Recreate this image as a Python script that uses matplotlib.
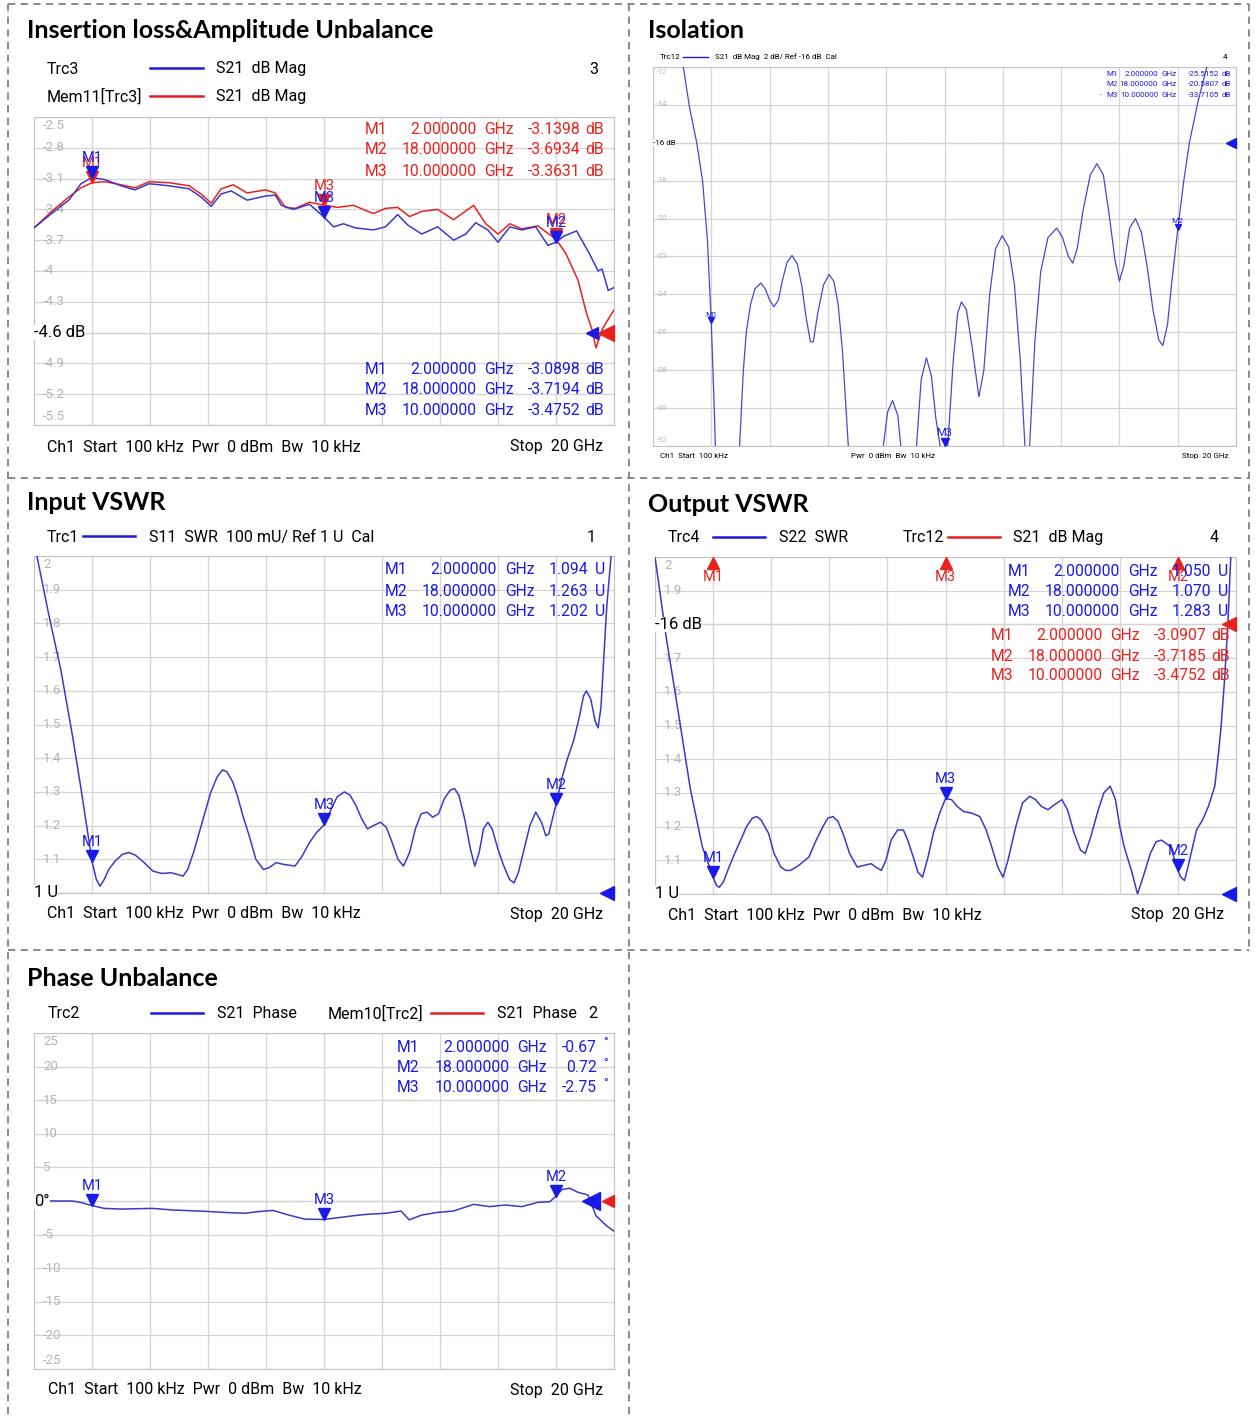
import numpy as np
import matplotlib
matplotlib.use('Agg')
import matplotlib.pyplot as plt
from matplotlib.lines import Line2D
from matplotlib import transforms

# ---- data (freq in GHz) ----

# Insertion loss, Trc3 (blue) and Mem11 (red), dB
il_blue_f = [0.0, 0.65, 1.2, 1.62, 2.0, 2.45, 3.0, 3.48, 3.97, 4.66, 5.35, 5.76, 6.11, 6.45,
             6.8, 7.35, 7.98, 8.32, 8.53, 8.94, 9.5, 10.0, 10.33, 10.67, 11.08, 11.7, 12.12,
             12.54, 12.88, 13.37, 13.92, 14.47, 14.89, 15.23, 15.65, 16.0, 16.41, 16.82,
             17.3, 17.72, 18.0, 18.27, 18.71, 19.17, 19.45, 19.59, 19.8, 20.0]
il_blue = [-3.58, -3.43, -3.31, -3.15, -3.09, -3.11, -3.17, -3.21, -3.15, -3.17, -3.20,
           -3.28, -3.37, -3.25, -3.22, -3.31, -3.27, -3.26, -3.36, -3.40, -3.35, -3.475,
           -3.57, -3.54, -3.58, -3.60, -3.57, -3.45, -3.55, -3.64, -3.57, -3.70, -3.64,
           -3.53, -3.60, -3.72, -3.57, -3.60, -3.57, -3.75, -3.72, -3.66, -3.61, -3.84,
           -4.00, -3.98, -4.19, -4.16]
il_red_f = [0.0, 0.65, 1.2, 1.62, 2.0, 2.45, 3.0, 3.48, 3.97, 4.66, 5.35, 5.76, 6.11, 6.45,
            6.87, 7.35, 7.98, 8.32, 8.67, 9.01, 9.5, 10.0, 10.46, 11.02, 11.43, 11.71,
            12.12, 12.54, 12.95, 13.37, 13.92, 14.47, 15.16, 15.58, 16.0, 16.41, 16.82,
            17.37, 18.0, 18.34, 18.76, 19.03, 19.24, 19.38, 19.59, 19.8, 20.0]
il_red = [-3.58, -3.41, -3.28, -3.19, -3.14, -3.13, -3.16, -3.19, -3.13, -3.14, -3.17,
          -3.25, -3.34, -3.20, -3.16, -3.24, -3.21, -3.24, -3.38, -3.39, -3.33, -3.36,
          -3.38, -3.36, -3.41, -3.44, -3.39, -3.38, -3.47, -3.42, -3.40, -3.50, -3.36,
          -3.54, -3.64, -3.54, -3.59, -3.56, -3.69, -3.83, -4.09, -4.39, -4.57, -4.75,
          -4.57, -4.47, -4.38]

# Isolation, Trc12, dB
iso_f = [0.0, 0.5, 1.0, 1.25, 1.5, 1.7, 1.87, 2.0, 2.1, 2.2, 2.55, 2.9, 2.97, 3.1, 3.2,
         3.35, 3.5, 3.7, 3.85, 4.0, 4.15, 4.3, 4.45, 4.6, 4.77, 4.95, 5.1, 5.25, 5.4, 5.5,
         5.65, 5.85, 6.04, 6.2, 6.35, 6.5, 6.7, 6.9, 7.3, 7.7, 7.9, 8.05, 8.22, 8.4, 8.5,
         8.75, 9.04, 9.2, 9.38, 9.55, 9.7, 9.85, 10.0, 10.11, 10.3, 10.45, 10.58, 10.75,
         10.95, 11.18, 11.35, 11.55, 11.75, 11.98, 12.2, 12.4, 12.6, 12.76, 12.84, 12.92,
         13.1, 13.3, 13.55, 13.85, 14.05, 14.25, 14.4, 14.55, 14.75, 15.0, 15.23, 15.45,
         15.65, 15.85, 16.0, 16.15, 16.35, 16.55, 16.75, 16.95, 17.15, 17.35, 17.49, 17.65,
         17.8, 18.0, 18.2, 18.4, 18.7, 19.0, 19.5, 20.0]
iso_db = [-4.0, -7.5, -11.6, -14.1, -16.0, -18.0, -21.2, -25.5, -30.0, -35.0, -40.0, -35.0,
          -32.0, -28.0, -26.0, -24.5, -23.7, -23.4, -23.7, -24.3, -24.65, -24.3, -23.2,
          -22.3, -21.95, -22.4, -23.5, -25.2, -26.5, -26.5, -25.0, -23.5, -22.95, -23.3,
          -24.5, -27.0, -32.0, -36.0, -40.0, -36.0, -32.0, -30.2, -29.6, -30.4, -32.0,
          -35.0, -32.0, -28.5, -27.35, -28.3, -30.5, -32.0, -33.7, -32.0, -27.5, -25.0,
          -24.4, -24.8, -26.8, -29.4, -28.0, -24.0, -21.6, -20.9, -21.5, -23.5, -27.5,
          -32.0, -33.5, -32.0, -26.5, -22.8, -21.0, -20.5, -21.0, -22.0, -22.35, -21.6,
          -19.6, -17.7, -17.1, -17.7, -19.8, -22.2, -23.3, -22.5, -20.5, -20.0, -20.7,
          -22.5, -24.8, -26.4, -26.7, -25.6, -23.3, -20.6, -18.1, -16.0, -13.8, -12.0,
          -9.0, -6.0]

# Input VSWR, S11
vin_f = [0.0, 0.1, 0.5, 0.93, 1.34, 1.62, 1.85, 2.0, 2.15, 2.28, 2.42, 2.58, 2.8, 3.05,
         3.28, 3.5, 3.8, 4.1, 4.4, 4.73, 4.95, 5.14, 5.3, 5.5, 5.7, 5.9, 6.1, 6.32, 6.5,
         6.65, 6.85, 7.01, 7.2, 7.42, 7.65, 7.91, 8.1, 8.35, 8.6, 9.0, 9.25, 9.5, 9.75,
         10.0, 10.2, 10.45, 10.7, 10.9, 11.1, 11.3, 11.5, 11.7, 11.95, 12.15, 12.35, 12.55,
         12.74, 12.95, 13.15, 13.35, 13.55, 13.75, 13.95, 14.15, 14.35, 14.5, 14.65, 14.85,
         15.05, 15.2, 15.35, 15.5, 15.65, 15.8, 16.0, 16.2, 16.4, 16.55, 16.7, 16.9, 17.1,
         17.3, 17.5, 17.65, 17.75, 17.85, 18.0, 18.2, 18.4, 18.6, 18.8, 18.95, 19.05, 19.2,
         19.35, 19.45, 19.55, 19.65, 19.75, 19.85, 19.95]
vin = [2.05, 2.0, 1.83, 1.66, 1.46, 1.31, 1.18, 1.094, 1.04, 1.02, 1.04, 1.07, 1.095, 1.115,
       1.12, 1.112, 1.09, 1.065, 1.058, 1.06, 1.055, 1.05, 1.07, 1.12, 1.18, 1.24, 1.30,
       1.345, 1.365, 1.36, 1.33, 1.29, 1.23, 1.17, 1.10, 1.07, 1.075, 1.09, 1.085, 1.08,
       1.11, 1.15, 1.18, 1.202, 1.24, 1.285, 1.30, 1.29, 1.26, 1.22, 1.19, 1.20, 1.21,
       1.195, 1.15, 1.10, 1.08, 1.12, 1.19, 1.235, 1.24, 1.225, 1.235, 1.28, 1.305, 1.31,
       1.29, 1.22, 1.13, 1.08, 1.12, 1.19, 1.21, 1.19, 1.13, 1.08, 1.04, 1.03, 1.06, 1.13,
       1.20, 1.24, 1.21, 1.17, 1.175, 1.21, 1.263, 1.34, 1.40, 1.45, 1.52, 1.585, 1.60,
       1.575, 1.51, 1.49, 1.55, 1.70, 1.85, 1.95, 2.05]

# Output VSWR, S22
vout_f = [0.0, 0.39, 0.8, 1.22, 1.63, 2.0, 2.12, 2.21, 2.35, 2.55, 2.74, 2.95, 3.15, 3.35,
          3.5, 3.65, 3.91, 4.1, 4.33, 4.5, 4.67, 4.95, 5.3, 5.55, 5.78, 5.95, 6.13, 6.3,
          6.47, 6.7, 6.96, 7.2, 7.44, 7.6, 7.79, 7.95, 8.13, 8.35, 8.55, 8.7, 8.89, 9.05,
          9.21, 9.4, 9.58, 9.8, 10.0, 10.21, 10.4, 10.62, 10.9, 11.18, 11.4, 11.59, 11.8,
          11.98, 12.15, 12.42, 12.65, 12.9, 13.1, 13.3, 13.53, 13.75, 14.01, 14.2, 14.43,
          14.65, 14.81, 15.0, 15.26, 15.45, 15.67, 15.85, 16.0, 16.15, 16.4, 16.61, 16.8,
          17.05, 17.25, 17.43, 17.6, 17.75, 18.0, 18.1, 18.23, 18.4, 18.64, 18.85, 19.05,
          19.27, 19.4, 19.48, 19.61, 19.72, 19.82, 20.0]
vout = [2.0, 1.76, 1.54, 1.31, 1.14, 1.05, 1.025, 1.02, 1.035, 1.08, 1.12, 1.16, 1.20,
        1.225, 1.23, 1.22, 1.18, 1.12, 1.08, 1.07, 1.07, 1.085, 1.11, 1.16, 1.20, 1.225,
        1.23, 1.215, 1.18, 1.12, 1.08, 1.085, 1.09, 1.08, 1.07, 1.10, 1.16, 1.19, 1.19,
        1.16, 1.11, 1.065, 1.05, 1.11, 1.18, 1.24, 1.283, 1.28, 1.26, 1.245, 1.24, 1.23,
        1.19, 1.14, 1.08, 1.05, 1.10, 1.20, 1.27, 1.29, 1.28, 1.26, 1.25, 1.265, 1.28,
        1.25, 1.18, 1.13, 1.12, 1.17, 1.25, 1.30, 1.32, 1.28, 1.20, 1.14, 1.07, 1.00, 1.05,
        1.12, 1.155, 1.16, 1.15, 1.14, 1.07, 1.05, 1.04, 1.10, 1.19, 1.22, 1.26, 1.32,
        1.42, 1.49, 1.64, 1.80, 2.0, 2.2]

# Phase unbalance, S21 phase, deg
ph_f = [0.0, 1.31, 1.59, 2.0, 2.42, 2.98, 4.08, 4.78, 5.74, 6.57, 7.27, 7.68, 8.24, 8.79,
        9.34, 10.0, 10.45, 11.0, 11.42, 12.11, 12.66, 12.94, 13.36, 13.91, 14.46, 15.16,
        15.71, 16.26, 16.82, 17.37, 17.79, 18.0, 18.2, 18.48, 18.75, 19.1, 19.38, 19.72,
        20.0]
ph = [0.0, 0.0, -0.2, -0.67, -1.1, -1.2, -1.1, -1.34, -1.5, -1.7, -1.83, -1.6, -1.4, -2.1,
      -2.7, -2.75, -2.5, -2.2, -2.0, -1.83, -1.5, -2.8, -2.1, -1.7, -1.5, -0.5, -0.84,
      -0.6, -0.84, -0.2, -0.1, 0.72, 1.7, 1.9, 1.3, 0.9, -2.2, -3.6, -4.5]

# markers: name, frequency, value
mk_names = ['M1', 'M2', 'M3']
mk_freq = [2.0, 18.0, 10.0]
mk_freq_txt = ['2.000000', '18.000000', '10.000000']
il_red_mk = [-3.1398, -3.6934, -3.3631]
il_blue_mk = [-3.0898, -3.7194, -3.4752]
iso_mk = [-25.5152, -20.5807, -33.7105]
vin_mk = [1.094, 1.263, 1.202]
vout_mk = [1.050, 1.070, 1.283]
vout_red_mk = [-3.0907, -3.7185, -3.4752]
ph_mk = [-0.67, 0.72, -2.75]

# y grid labels (top to bottom), None where the reference label sits
il_labels = ['-2.5', '-2.8', '-3.1', '-3.4', '-3.7', '-4', '-4.3', None, '-4.9', '-5.2', '-5.5']
iso_labels = ['-12', '-14', None, '-18', '-20', '-22', '-24', '-26', '-28', '-30', '-32']
vin_labels = ['2', '1.9', '1.8', '1.7', '1.6', '1.5', '1.4', '1.3', '1.2', '1.1', None]
vout_labels = ['2', '1.9', None, '1.7', '1.6', '1.5', '1.4', '1.3', '1.2', '1.1', None]
ph_labels = ['25', '20', '15', '10', '5', None, '-5', '-10', '-15', '-20', '-25']

W, H = 1259, 1419
BLUE = '#3a3ac8'
BLUE_MK = '#1a1ae6'
RED = '#e8231e'
GRAY_LAB = '#b4b4b4'
TXT = 11.5   # header / footer text size
MKT = 11.3   # marker table text size

plt.rcParams['font.family'] = 'Roboto'
fig = plt.figure(figsize=(W / 100, H / 100), dpi=100)


def fx(x):
    return x / W


def fy(y):
    return 1 - y / H


def ftext(x, y, s, **kw):
    kw.setdefault('va', 'center')
    kw.setdefault('fontsize', TXT)
    fig.text(fx(x), fy(y), s, **kw)


def fline(x0, x1, y, color, lw=1.8):
    fig.add_artist(Line2D([fx(x0), fx(x1)], [fy(y), fy(y)], color=color, lw=lw))


def dashed(x0, y0, x1, y1):
    fig.add_artist(Line2D([fx(x0), fx(x1)], [fy(y0), fy(y1)], color='#808080',
                          lw=1.3, ls=(0, (4, 3))))


def scope(box, ylo, yhi, labels, lab_fs=9.5, lab_dx=9):
    x0, y0, x1, y1 = box
    ax = fig.add_axes([fx(x0), fy(y1), (x1 - x0) / W, (y1 - y0) / H])
    ax.set_xlim(0, 20)
    ax.set_ylim(ylo, yhi)
    levels = np.linspace(yhi, ylo, 11)
    ax.set_xticks(range(0, 21, 2))
    ax.set_yticks(levels)
    ax.tick_params(length=0, labelbottom=False, labelleft=False)
    ax.grid(True, color='#d4d4d4', lw=0.9)
    for sp in ax.spines.values():
        sp.set_color('#c4c4c4')
    base = transforms.blended_transform_factory(ax.transAxes, ax.transData)
    for i, lab in enumerate(labels):
        if lab is None:
            continue
        if i == 0:
            va, dy = 'top', -2
        elif i == 10:
            va, dy = 'bottom', 2
        else:
            va, dy = 'center', 0
        t = base + transforms.ScaledTranslation(lab_dx / 100, dy / 100, fig.dpi_scale_trans)
        ax.text(0, levels[i], lab, transform=t, color=GRAY_LAB, fontsize=lab_fs,
                va=va, ha='left')
    return ax


def ref_line(ax, yv, text, fs=12):
    ax.axhline(yv, color='#202020', lw=0.8, ls=(0, (1, 1.3)), zorder=1)
    trans = transforms.blended_transform_factory(ax.transAxes, ax.transData)
    ax.text(0.0, yv, text, transform=trans, fontsize=fs, va='center', ha='left',
            color='black', zorder=5, bbox=dict(fc='white', ec='none', pad=0.3))


def ref_arrow(ax, yv, color, ms, dx_px=0):
    trans = transforms.blended_transform_factory(ax.transAxes, ax.transData)
    trans = trans + transforms.ScaledTranslation((-ms * 100 / 72 / 2 - dx_px) / 100, 0,
                                                 fig.dpi_scale_trans)
    ax.plot([1.0], [yv], marker='<', ms=ms, color=color, transform=trans,
            clip_on=False, zorder=6, mec=color)


def marker(ax, f, v, name, color, ms=8, fs=10, up=False, lab_gap=1):
    if up:
        t = transforms.offset_copy(ax.transData, fig=fig, y=-ms / 2, units='points')
        ax.plot([f], [v], marker='^', ms=ms, color=color, transform=t, clip_on=False, zorder=6)
        ax.annotate(name, (f, v), xytext=(0, -ms - lab_gap), textcoords='offset points',
                    ha='center', va='top', color=color, fontsize=fs, zorder=6)
    else:
        t = transforms.offset_copy(ax.transData, fig=fig, y=ms / 2, units='points')
        ax.plot([f], [v], marker='v', ms=ms, color=color, transform=t, clip_on=False, zorder=6)
        ax.annotate(name, (f, v), xytext=(0, ms + lab_gap), textcoords='offset points',
                    ha='center', va='bottom', color=color, fontsize=fs, zorder=6)


def table(rows_y, R, cols, vals, unit, color, fs=MKT, dot_row=None):
    for k, y in enumerate(rows_y):
        ftext(R + cols[0], y, mk_names[k], ha='left', color=color, fontsize=fs)
        ftext(R + cols[1], y, mk_freq_txt[k], ha='right', color=color, fontsize=fs)
        ftext(R + cols[2], y, 'GHz', ha='left', color=color, fontsize=fs)
        ftext(R + cols[3], y, vals[k], ha='right', color=color, fontsize=fs)
        if unit == '°':
            ftext(R + cols[4], y - 4, unit, ha='left', color=color, fontsize=fs * 0.8)
        else:
            ftext(R + cols[4], y, unit, ha='left', color=color, fontsize=fs)
        if dot_row == k:
            ftext(R + cols[0] - 6, y, '•', ha='left', color=color, fontsize=fs * 0.7)


TITLE_KW = dict(fontsize=18, fontweight='bold', family='Lato', ha='left')
SMALL = 5.8
DB_COLS = (-239, -127, -120, -24, -19)
U_COLS = (-221, -109, -101, -18, -11)

# ---- dashed cell borders ----
dashed(8, 4, 1249, 4)
dashed(8, 478, 1249, 478)
dashed(8, 950, 1249, 950)
dashed(8, 4, 8, 1419)
dashed(629, 4, 629, 1419)
dashed(1249, 4, 1249, 950)

# ---- Insertion loss ----
ftext(27, 31, 'Insertion loss&Amplitude Unbalance', **TITLE_KW)
ftext(47, 69, 'Trc3')
fline(150, 203, 68, '#1a1ae0')
ftext(216, 69, 'S21  dB Mag')
ftext(598, 69, '3', ha='right')
ftext(47, 97, 'Mem11[Trc3]')
fline(150, 203, 96, '#e02020')
ftext(216, 97, 'S21  dB Mag')
ax = scope((34, 117, 614, 425), -5.5, -2.5, il_labels)
ax.plot(il_red_f, il_red, color=RED, lw=1.1, zorder=3)
ax.plot(il_blue_f, il_blue, color=BLUE, lw=1.1, zorder=3)
ref_line(ax, -4.6, '-4.6 dB')
ref_arrow(ax, -4.6, RED, 11)
ref_arrow(ax, -4.6, BLUE_MK, 9, dx_px=16)
for k in range(3):
    marker(ax, mk_freq[k], il_red_mk[k], mk_names[k], RED, ms=8, fs=10.5)
    marker(ax, mk_freq[k], il_blue_mk[k], mk_names[k], BLUE_MK, ms=8, fs=10.5)
table([130, 150, 171], 604, DB_COLS, ['-3.1398', '-3.6934', '-3.3631'], 'dB', RED)
table([370, 390, 411], 604, DB_COLS, ['-3.0898', '-3.7194', '-3.4752'], 'dB', BLUE_MK)
ftext(47, 447, 'Ch1  Start  100 kHz  Pwr  0 dBm  Bw  10 kHz')
ftext(603, 447, 'Stop  20 GHz', ha='right')

# ---- Isolation ----
ftext(648, 31, 'Isolation', **TITLE_KW)
ftext(660, 57, 'Trc12', fontsize=SMALL)
fline(683, 708, 57, '#1a1ae0', lw=1.0)
ftext(715, 57, 'S21  dB Mag  2 dB/ Ref -16 dB  Cal', fontsize=SMALL)
ftext(1227, 57, '4', ha='right', fontsize=SMALL)
ax = scope((653, 67, 1236, 446), -32, -12, iso_labels, lab_fs=5.3, lab_dx=4)
ax.plot(iso_f, iso_db, color='#4848d0', lw=0.9, zorder=3)
ref_line(ax, -16, '-16 dB', fs=5.8)
ref_arrow(ax, -16, BLUE_MK, 7)
for k in range(3):
    big = k == 2
    marker(ax, mk_freq[k], max(iso_mk[k], -32), mk_names[k], BLUE_MK,
           ms=6 if big else 4, fs=8 if big else 6, lab_gap=0)
table([74, 84, 95], 1231, (-125, -73, -69, -12, -9),
      ['-25.5152', '-20.5807', '-33.7105'], 'dB', BLUE_MK, fs=SMALL, dot_row=2)
ftext(660, 456, 'Ch1  Start  100 kHz', fontsize=SMALL)
ftext(851, 456, 'Pwr  0 dBm  Bw  10 kHz', fontsize=SMALL)
ftext(1229, 456, 'Stop  20 GHz', ha='right', fontsize=SMALL)

# ---- Input VSWR ----
ftext(27, 503, 'Input VSWR', **TITLE_KW)
ftext(47, 537, 'Trc1')
fline(83, 135, 536, '#1a1ae0')
ftext(149, 537, 'S11  SWR  100 mU/ Ref 1 U  Cal')
ftext(596, 537, '1', ha='right')
ax = scope((34, 556, 614, 893), 1.0, 2.0, vin_labels)
ax.plot(vin_f, vin, color=BLUE, lw=1.1, zorder=3)
ref_line(ax, 1.0, '1 U')
ref_arrow(ax, 1.0, BLUE_MK, 10)
for k in range(3):
    marker(ax, mk_freq[k], vin_mk[k], mk_names[k], BLUE_MK, ms=8, fs=10.5)
table([570, 591, 612], 606, U_COLS, ['1.094', '1.263', '1.202'], 'U', BLUE_MK)
ftext(47, 914, 'Ch1  Start  100 kHz  Pwr  0 dBm  Bw  10 kHz')
ftext(603, 914, 'Stop  20 GHz', ha='right')

# ---- Output VSWR ----
ftext(648, 504, 'Output VSWR', **TITLE_KW)
ftext(668, 538, 'Trc4')
fline(713, 765, 537, '#1a1ae0')
ftext(779, 538, 'S22  SWR')
ftext(903, 538, 'Trc12')
fline(948, 1000, 537, '#e02020')
ftext(1013, 538, 'S21  dB Mag')
ftext(1219, 538, '4', ha='right')
ax = scope((655, 557, 1236, 894), 1.0, 2.0, vout_labels)
ax.plot(vout_f, vout, color=BLUE, lw=1.1, zorder=3)
ref_line(ax, 1.8, '-16 dB')
ref_line(ax, 1.0, '1 U')
ref_arrow(ax, 1.8, RED, 10)
ref_arrow(ax, 1.0, BLUE_MK, 10)
for k in range(3):
    marker(ax, mk_freq[k], vout_mk[k], mk_names[k], BLUE_MK, ms=8, fs=10.5)
    marker(ax, mk_freq[k], 2.0, mk_names[k], RED, ms=8, fs=10.5, up=True)
table([571, 592, 612], 1229, U_COLS, ['1.050', '1.070', '1.283'], 'U', BLUE_MK)
table([635, 656, 676], 1230, DB_COLS, ['-3.0907', '-3.7185', '-3.4752'], 'dB', RED)
ftext(668, 915, 'Ch1  Start  100 kHz  Pwr  0 dBm  Bw  10 kHz')
ftext(1224, 915, 'Stop  20 GHz', ha='right')

# ---- Phase unbalance ----
ftext(27, 978, 'Phase Unbalance', **TITLE_KW)
ftext(48, 1014, 'Trc2')
fline(151, 203, 1013, '#1a1ae0')
ftext(217, 1014, 'S21  Phase')
ftext(328, 1014, 'Mem10[Trc2]')
fline(431, 483, 1013, '#e02020')
ftext(497, 1014, 'S21  Phase')
ftext(597, 1014, '2', ha='right')
ax = scope((34, 1033, 614, 1369), -25, 25, ph_labels)
ax.plot(ph_f, ph, color=BLUE, lw=1.1, zorder=3)
ref_line(ax, 0, '0°')
ref_arrow(ax, 0, RED, 9)
ref_arrow(ax, 0, BLUE_MK, 13, dx_px=14)
for k in range(3):
    marker(ax, mk_freq[k], ph_mk[k], mk_names[k], BLUE_MK, ms=8, fs=10.5)
table([1047, 1068, 1088], 606, (-209, -96, -89, -9, -3),
      ['-0.67', '0.72', '-2.75'], '°', BLUE_MK)
ftext(48, 1390, 'Ch1  Start  100 kHz  Pwr  0 dBm  Bw  10 kHz')
ftext(603, 1390, 'Stop  20 GHz', ha='right')

fig.savefig('out.png', dpi=100)
